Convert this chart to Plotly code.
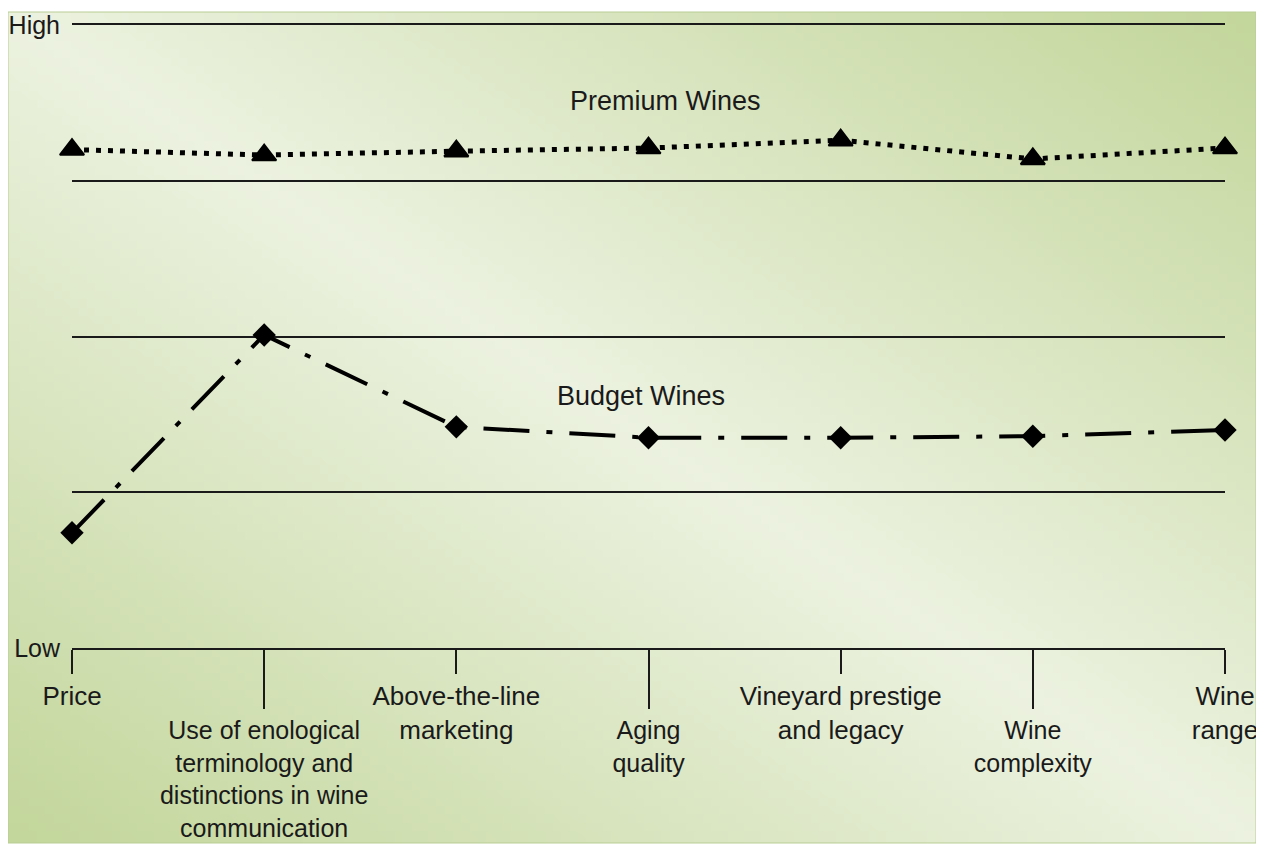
import base64
import struct
import zlib

import plotly.graph_objects as go

# criteria on the horizontal axis (multi-line labels as in the original figure)
criteria = [
    "Price",
    "Use of enological<br>terminology and<br>distinctions in wine<br>communication",
    "Above-the-line<br>marketing",
    "Aging<br>quality",
    "Vineyard prestige<br>and legacy",
    "Wine<br>complexity",
    "Wine<br>range",
]

# relative level, 0 = Low ... 4 = High
premium = [3.20, 3.165, 3.19, 3.21, 3.26, 3.14, 3.21]
budget = [0.74, 2.01, 1.42, 1.35, 1.35, 1.36, 1.40]

level_ticks = [0, 1, 2, 3, 4]
level_text = ["Low", "", "", "", "High"]

series_names = ["Premium Wines", "Budget Wines"]

INK = "#1a1a1a"
FONT = "Liberation Sans, Arial, sans-serif"


## small png with the reflected diagonal gradient used behind the chart
def gradient_png(w, h, dark=(195, 214, 155), light=(236, 242, 224)):
  rows = []
  for j in range(h):
    row = bytearray([0])
    v = j / (h - 1)
    for i in range(w):
      u = i / (w - 1)
      t = (u + (1 - v)) / 2
      s = abs(2 * t - 1)
      for k in range(3):
        row.append(int(round(light[k] + (dark[k] - light[k]) * s)))
    rows.append(bytes(row))
  raw = b"".join(rows)

  def chunk(tag, data):
    c = struct.pack(">I", len(data)) + tag + data
    return c + struct.pack(">I", zlib.crc32(tag + data) & 0xffffffff)

  png = b"\x89PNG\r\n\x1a\n"
  png += chunk(b"IHDR", struct.pack(">IIBBBBB", w, h, 8, 2, 0, 0, 0))
  png += chunk(b"IDAT", zlib.compress(raw, 9))
  png += chunk(b"IEND", b"")
  return "data:image/png;base64," + base64.b64encode(png).decode()


xs = list(range(len(criteria)))
even = xs[0::2]
odd = xs[1::2]

fig = go.Figure()

fig.add_trace(go.Scatter(x=xs, y=premium, name=series_names[0],
                         mode="lines+markers", cliponaxis=False,
                         line=dict(color="black", width=5, dash="5px,7px"),
                         marker=dict(symbol="triangle-up", size=21, color="black",
                                     line=dict(color="black", width=2))))
# second series sits on the overlaid x axis that carries the long ticks
fig.add_trace(go.Scatter(x=xs, y=budget, name=series_names[1], xaxis="x2",
                         mode="lines+markers", cliponaxis=False,
                         line=dict(color="black", width=4, dash="46px,17px,6px,17px"),
                         marker=dict(symbol="diamond", size=18, color="black")))

# page body has an 8px margin; the figure starts at (8, 8)
OFF = 8
W, H = 1264 - OFF, 844 - OFF
L, R, T, B = 72 - OFF, 39, 25 - OFF, 196
pw, ph = W - L - R, H - T - B
# background panel spans 8..1256 x 12..843 px of the page
px0, px1, py0, py1 = 8 - OFF, 1256 - OFF, 12 - OFF, 843 - OFF
fig.add_layout_image(dict(source=gradient_png(150, 100), xref="paper", yref="paper",
                          x=(px0 - L) / pw, y=(H - B - py0) / ph,
                          sizex=(px1 - px0) / pw, sizey=(py1 - py0) / ph,
                          sizing="stretch", layer="below", xanchor="left", yanchor="top"))
fig.add_shape(type="rect", xref="paper", yref="paper",
              x0=(px0 - L) / pw, x1=(px1 - L) / pw,
              y0=(H - B - py1) / ph, y1=(H - B - py0) / ph,
              line=dict(color="#b9cd94", width=1), layer="below")

tick_font = dict(family=FONT, size=26, color=INK)
fig.update_layout(
  width=W, height=H,
  margin=dict(l=L, r=R, t=T, b=B),
  paper_bgcolor="white",
  plot_bgcolor="rgba(0,0,0,0)",
  showlegend=False,
  font=dict(family=FONT, color=INK),
  xaxis=dict(range=[0, 6], tickvals=even, ticktext=[criteria[i] for i in even],
             ticks="outside", ticklen=24, tickwidth=2, tickcolor=INK,
             showline=True, linecolor=INK, linewidth=2, mirror=True,
             showgrid=False, zeroline=False, tickfont=tick_font, tickangle=0,
             automargin=False),
  xaxis2=dict(range=[0, 6], overlaying="x", anchor="y", side="bottom",
              tickvals=odd, ticktext=[criteria[i] for i in odd],
              ticks="outside", ticklen=60, tickwidth=2, tickcolor=INK,
              showline=False, showgrid=False, zeroline=False,
              tickfont=dict(family=FONT, size=25, color=INK), tickangle=0,
              automargin=False),
  yaxis=dict(range=[0, 4], tickvals=level_ticks, ticktext=level_text,
             showgrid=True, gridcolor=INK, gridwidth=1.5,
             zeroline=False, showline=False, ticks="", ticklabelstandoff=11,
             tickfont=dict(family=FONT, size=25, color=INK), automargin=False),
)

fig.add_annotation(x=3.09, y=3.51, text=series_names[0], showarrow=False,
                   font=dict(family=FONT, size=27, color=INK))
fig.add_annotation(x=2.96, y=1.62, text=series_names[1], showarrow=False,
                   font=dict(family=FONT, size=27, color=INK))

fig.write_html("out.html")
